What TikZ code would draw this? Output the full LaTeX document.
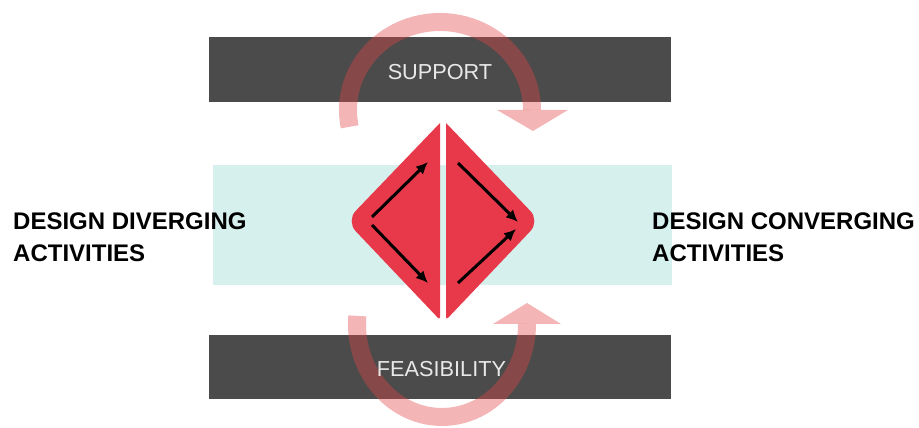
\documentclass[tikz,border=0pt]{standalone}
\usepackage{fontspec}
\setmainfont{Liberation Sans}
\usetikzlibrary{calc,arrows.meta}

\definecolor{bardark}{HTML}{4B4B4B}
\definecolor{bandcyan}{HTML}{D6F0EE}
\definecolor{diared}{HTML}{E8394A}
\definecolor{looped}{HTML}{E04545}
\definecolor{bartxt}{HTML}{E8E8E8}

\begin{document}
\begin{tikzpicture}[x=1pt,y=1pt,
    bar/.style={fill=bardark,inner sep=0pt,minimum width=462pt},
    band/.style={fill=bandcyan,inner sep=0pt,minimum width=459pt,minimum height=120pt},
    bartext/.style={text=bartxt,inner sep=0pt,anchor=base,font=\fontsize{21.7}{26}\selectfont},
    sidetext/.style={inner sep=0pt,anchor=base west,font=\fontsize{24}{30}\selectfont\bfseries},
    halfdia/.style={fill=diared},
    flowarrow/.style={line width=3pt,-{Latex[length=12pt,width=11pt]}},
    cyclearc/.style={draw=looped,line width=18pt,opacity=0.4},
    cyclehead/.style={fill=looped,opacity=0.4}]
  \useasboundingbox (0,0) rectangle (919,428);

  \node[band] (band) at (442.5,203) {};
  \node[bar,minimum height=65pt] (supportbar) at (440,358.5) {};
  \node[bar,minimum height=64pt] (feasbar) at (440,61) {};

  % loop over the top
  \coordinate (topc) at (440,318);
  \draw[cyclearc] ($(topc)+(191:92pt and 88pt)$) arc[start angle=191,end angle=0,x radius=92pt,y radius=88pt];
  \fill[cyclehead] (497,318) -- (568,318) -- (533,297) -- cycle;

  % loop under the bottom
  \coordinate (botc) at (442,104);
  \draw[cyclearc] ($(botc)+(175:85pt and 93pt)$) arc[start angle=175,end angle=360,x radius=85pt,y radius=93pt];
  \fill[cyclehead] (493,104) -- (561,104) -- (527,125) -- cycle;

  \node[bartext] (support) at (440,348) {SUPPORT};
  \node[bartext] (feasibility) at (441.5,51) {FEASIBILITY};

  % the two halves
  \fill[halfdia] (440,207) -- (440,305) [rounded corners=14pt] -- (346,207) [rounded corners=3pt] -- (440,108) -- cycle;
  \fill[halfdia] (446,207) -- (446,305) [rounded corners=14pt] -- (540,207) [rounded corners=3pt] -- (446,108) -- cycle;

  \coordinate (l1a) at (372,211); \coordinate (l1b) at (428,266);
  \coordinate (l2a) at (372,203); \coordinate (l2b) at (428,145);
  \coordinate (r1a) at (458,265); \coordinate (r1b) at (518,206);
  \coordinate (r2a) at (458,145); \coordinate (r2b) at (516,199);
  \draw[flowarrow] (l1a) -- (l1b);
  \draw[flowarrow] (l2a) -- (l2b);
  \draw[flowarrow] (r1a) -- (r1b);
  \draw[flowarrow] (r2a) -- (r2b);

  \node[sidetext] (divtop) at (13,198) {DESIGN DIVERGING};
  \node[sidetext] (divbot) at (13,166) {ACTIVITIES};
  \node[sidetext] (contop) at (652,198) {DESIGN CONVERGING};
  \node[sidetext] (conbot) at (652,166) {ACTIVITIES};
\end{tikzpicture}
\end{document}
